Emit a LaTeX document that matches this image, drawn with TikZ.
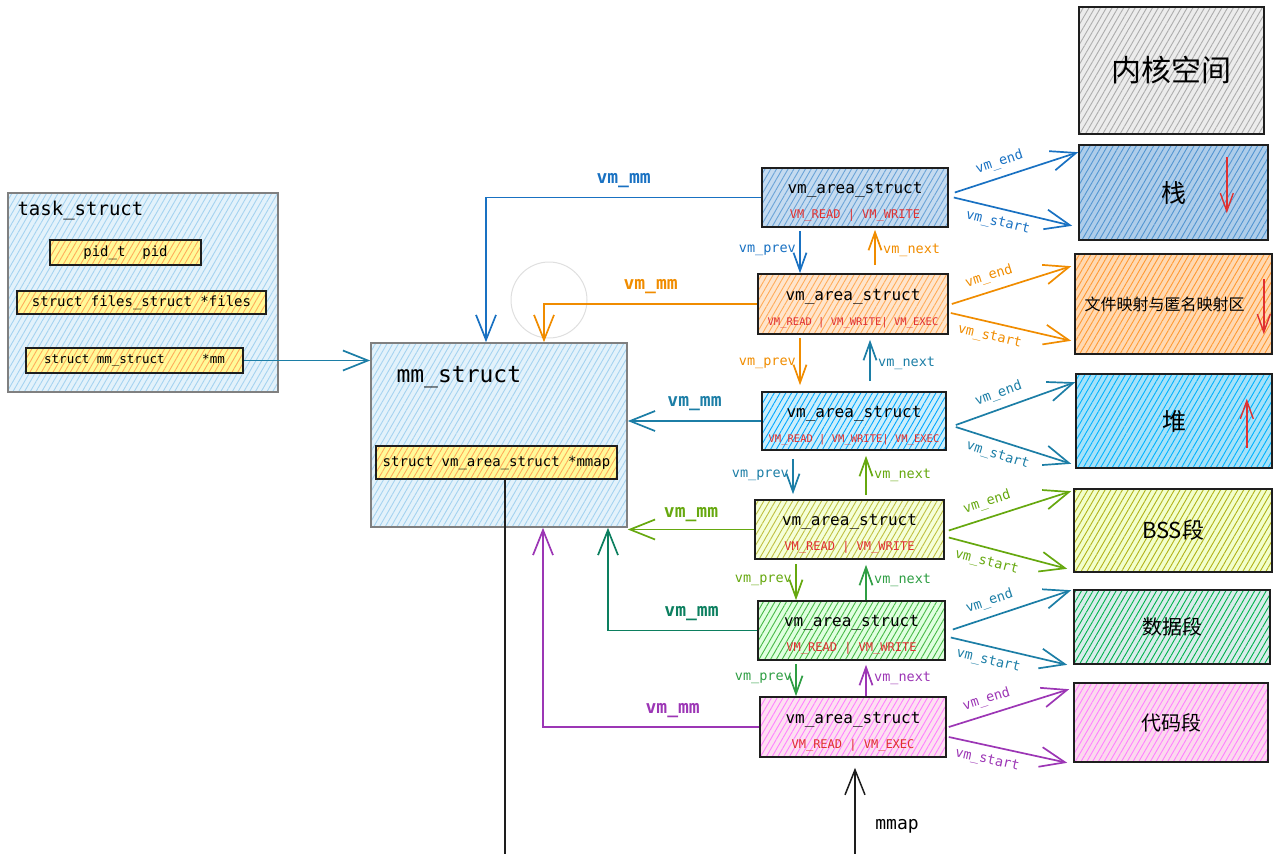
\documentclass[tikz,border=0pt]{standalone}
\usepackage{fontspec}
\setmonofont{DejaVu Sans Mono}
\newfontfamily\cjk{Noto Sans CJK SC}
\usetikzlibrary{patterns}
\usetikzlibrary{patterns.meta}
\usetikzlibrary{arrows.meta}
\usetikzlibrary{calc}

\definecolor{cblue}{HTML}{1971C2}
\definecolor{corange}{HTML}{F08C00}
\definecolor{cteal}{HTML}{1C7EA6}
\definecolor{colive}{HTML}{66A80F}
\definecolor{cgreen}{HTML}{2F9E44}
\definecolor{cdkgreen}{HTML}{0C7F5F}
\definecolor{cpurple}{HTML}{9C36B5}
\definecolor{cflag}{HTML}{E03131}
\definecolor{cink}{HTML}{1E1E1E}
\definecolor{cpale}{HTML}{E3F2FB}
\definecolor{cpaleline}{HTML}{A5D3F0}

\tikzset{
  hatch/.style 2 args={preaction={fill=#1}, pattern={Lines[angle=60,distance=5pt,line width=0.9pt]}, pattern color=#2},
  box/.style={draw=cink, line width=1.6pt, inner sep=0pt},
  field/.style={box, hatch={yellow!40}{orange!65}, font=\ttfamily\fontsize{14}{16}\selectfont},
  vma/.style={box, minimum width=186pt, minimum height=59pt, align=center, font=\ttfamily\fontsize{16}{20}\selectfont},
  seg/.style={box, font=\cjk\fontsize{22}{26}\selectfont},
  link/.style={->, line width=1.7pt},
  chain/.style={link, >={Straight Barb[length=18pt,width=13pt]}},
  small/.style={font=\ttfamily\fontsize{13.5}{15}\selectfont},
  tiny/.style={font=\ttfamily\fontsize{13.5}{15}\selectfont},
  mmlbl/.style={font=\ttfamily\bfseries\fontsize{18}{20}\selectfont},
  growth/.style={->, cflag, line width=1.4pt, >={Straight Barb[length=18pt,width=13pt]}},
}
\newcommand{\flags}[1]{{\color{cflag}\fontsize{12}{14}\selectfont #1}}
\newcommand{\flagsx}[1]{{\color{cflag}\fontsize{10.5}{14}\selectfont #1}}
\newcommand{\vmatitle}{\rule{0pt}{20pt}vm\_area\_struct\\[5pt]}

\begin{document}
\begin{tikzpicture}[x=1pt, y=-1pt, >={Straight Barb[length=25pt,width=20pt]}]
  \useasboundingbox (0,0) rectangle (1277,854);

  % task_struct
  \node[box, draw=gray, hatch={cpale}{cpaleline}, minimum width=270pt, minimum height=199pt] (task) at (143,292.5) {};
  \node[anchor=west, font=\ttfamily\fontsize{19}{21}\selectfont] (tasklbl) at (14,211) {task\_struct};
  \node[field, minimum width=151pt, minimum height=25pt] (pid) at (125.5,252.5) {pid\_t\ \ pid};
  \node[field, minimum width=249pt, minimum height=23pt] (files) at (141.5,302.5) {struct files\_struct *files};
  \node[field, minimum width=217pt, minimum height=25pt, font=\ttfamily\fontsize{12.5}{14}\selectfont] (mmptr) at (134.5,360.5) {struct mm\_struct\ \ \ \ \ *mm};

  % mm_struct
  \node[box, draw=gray, hatch={cpale}{cpaleline}, minimum width=256pt, minimum height=184pt] (mm) at (499,435) {};
  \node[anchor=west, font=\ttfamily\fontsize{23}{25}\selectfont] (mmlbl) at (393,377) {mm\_struct};
  \node[field, minimum width=241pt, minimum height=33pt] (mmap) at (496.5,462.5) {struct vm\_area\_struct *mmap};

  \draw[link, cteal] (mmptr.east) -- (mmptr.east -| mm.west);

  % vm_area_struct list
  \node[vma, hatch={cblue!25}{cblue!65}] (vma1) at (855,197.5) {\vmatitle\flags{VM\_READ | VM\_WRITE}};
  \node[vma, hatch={orange!20}{orange!65}, minimum width=190pt, minimum height=60pt] (vma2) at (853,304) {\vmatitle\flagsx{VM\_READ | VM\_WRITE| VM\_EXEC}};
  \node[vma, hatch={cyan!20}{cyan!65!blue}, minimum width=184pt, minimum height=58pt] (vma3) at (854,421) {\vmatitle\flagsx{VM\_READ | VM\_WRITE| VM\_EXEC}};
  \node[vma, hatch={lime!15}{olive!50}, minimum width=189pt] (vma4) at (849.5,529.5) {\vmatitle\flags{VM\_READ | VM\_WRITE}};
  \node[vma, hatch={green!12}{green!45!gray}, minimum width=187pt] (vma5) at (851.5,630.5) {\vmatitle\flags{VM\_READ | VM\_WRITE}};
  \node[vma, hatch={magenta!12}{magenta!50}, minimum height=60pt] (vma6) at (853,727) {\vmatitle\flags{VM\_READ | VM\_EXEC}};

  % address space
  \node[seg, hatch={gray!15}{gray!65}, minimum width=185pt, minimum height=127pt, font=\cjk\fontsize{30}{34}\selectfont] (kern) at (1171.5,70.5) {内核空间};
  \node[seg, hatch={cblue!35}{cblue!75}, minimum width=189pt, minimum height=95pt, font=\cjk\fontsize{25}{28}\selectfont] (stack) at (1173.5,192.5) {栈};
  \node[seg, hatch={orange!30}{orange!80}, minimum width=197pt, minimum height=100pt, font=\cjk\fontsize{16}{18}\selectfont] (fmap) at (1173.5,304) {\hspace*{-18pt}文件映射与匿名映射区};
  \node[seg, hatch={cyan!35}{cyan!70!blue}, minimum width=196pt, minimum height=94pt, font=\cjk\fontsize{24}{27}\selectfont] (heap) at (1174,421) {堆};
  \node[seg, hatch={lime!20}{olive!60}, minimum width=198pt, minimum height=83pt] (bss) at (1173,530.5) {BSS段};
  \node[seg, hatch={teal!15}{teal!60!green}, minimum width=196pt, minimum height=74pt, font=\cjk\fontsize{20}{24}\selectfont] (data) at (1172,627) {数据段};
  \node[seg, hatch={magenta!15}{magenta!50}, minimum width=194pt, minimum height=79pt, font=\cjk\fontsize{20}{24}\selectfont] (text) at (1171,722.5) {代码段};

  \draw[growth] ([xshift=-42pt,yshift=-13pt]stack.north east) -- ++(0,56);
  \draw[growth] ([xshift=-9pt,yshift=-26pt]fmap.north east) -- ++(0,55);
  \draw[growth] ([xshift=-26pt,yshift=21pt]heap.south east) -- ++(0,-49);

  % vm_mm
  \draw[gray!25, line width=1pt] (549,300) circle (38pt);
  \draw[link, cblue] (vma1.west) -| ([xshift=-13pt]mm.north) node[pos=0.25, above=6pt, mmlbl] {vm\_mm};
  \draw[link, corange] (vma2.west) -| ([xshift=45pt]mm.north) node[pos=0.25, above=6pt, mmlbl] {vm\_mm};
  \draw[link, cteal] (vma3.west) -- (vma3.west -| mm.east) node[midway, above=6pt, mmlbl] {vm\_mm};
  \draw[link, colive] (vma4.west) -- (vma4.west -| mm.east) node[midway, above=4pt, mmlbl] {vm\_mm};
  \draw[link, cdkgreen] (vma5.west) -| ([xshift=109pt]mm.south) node[pos=0.22, above=6pt, mmlbl] {vm\_mm};
  \draw[link, cpurple] (vma6.west) -| ([xshift=44pt]mm.south) node[pos=0.2, above=5pt, mmlbl] {vm\_mm};

  % vm_prev / vm_next
  \draw[chain, cblue, shorten <=3pt] (vma1.south -| 800,0) -- (vma2.north -| 800,0) node[midway, left, small] {vm\_prev};
  \draw[chain, corange, shorten <=8pt, shorten >=2pt] (vma2.north -| 875,0) -- (vma1.south -| 875,0) node[midway, right=4pt, small] {vm\_next};
  \draw[chain, corange, shorten <=3pt, shorten >=6pt] (vma2.south -| 800,0) -- (vma3.north -| 800,0) node[midway, left, small] {vm\_prev};
  \draw[chain, cteal, shorten <=10pt, shorten >=5pt] (vma3.north -| 870,0) -- (vma2.south -| 870,0) node[midway, right=4pt, small] {vm\_next};
  \draw[chain, cteal, shorten <=8pt, shorten >=5pt] (vma3.south -| 793,0) -- (vma4.north -| 793,0) node[midway, left, small] {vm\_prev};
  \draw[chain, colive, shorten <=4pt, shorten >=5pt] (vma4.north -| 866,0) -- (vma3.south -| 866,0) node[midway, right=4pt, small] {vm\_next};
  \draw[chain, colive, shorten <=4pt] (vma4.south -| 796,0) -- (vma5.north -| 796,0) node[midway, left, small] {vm\_prev};
  \draw[chain, cgreen, shorten >=5pt] (vma5.north -| 866,0) -- (vma4.south -| 866,0) node[midway, right=4pt, small] {vm\_next};
  \draw[chain, cgreen, shorten <=3pt] (vma5.south -| 796,0) -- (vma6.north -| 796,0) node[midway, left, small] {vm\_prev};
  \draw[chain, cpurple, shorten >=4pt] (vma6.north -| 866,0) -- (vma5.south -| 866,0) node[midway, right=4pt, small] {vm\_next};

  % vm_end / vm_start
  \draw[link, cblue] ([xshift=6pt,yshift=5pt]vma1.east) -- ([yshift=-8pt]stack.north west) node[pos=0.4, above=4pt, sloped, tiny] {vm\_end};
  \draw[link, cblue] ([xshift=5pt]vma1.east) -- ([xshift=-6pt,yshift=15pt]stack.south west) node[pos=0.4, below=4pt, sloped, tiny] {vm\_start};
  \draw[link, corange] ([xshift=3pt]vma2.east) -- ([xshift=-3pt,yshift=-13pt]fmap.north west) node[pos=0.35, above=4pt, sloped, tiny] {vm\_end};
  \draw[link, corange] ([xshift=2pt,yshift=-9pt]vma2.east) -- ([xshift=-3pt,yshift=14pt]fmap.south west) node[pos=0.35, below=4pt, sloped, tiny] {vm\_start};
  \draw[link, cteal] ([xshift=9pt,yshift=-4pt]vma3.east) -- ([yshift=-9pt]heap.north west) node[pos=0.4, above=4pt, sloped, tiny] {vm\_end};
  \draw[link, cteal] ([xshift=9pt,yshift=-6pt]vma3.east) -- ([xshift=-4pt,yshift=5pt]heap.south west) node[pos=0.4, below=4pt, sloped, tiny] {vm\_start};
  \draw[link, colive] ([xshift=4pt,yshift=-1pt]vma4.east) -- ([xshift=-2pt,yshift=-3pt]bss.north west) node[pos=0.35, above=4pt, sloped, tiny] {vm\_end};
  \draw[link, colive] ([xshift=4pt,yshift=-8pt]vma4.east) -- ([xshift=-6pt,yshift=4pt]bss.south west) node[pos=0.35, below=4pt, sloped, tiny] {vm\_start};
  \draw[link, cteal] ([xshift=7pt,yshift=1pt]vma5.east) -- ([xshift=-2pt,yshift=-1pt]data.north west) node[pos=0.35, above=4pt, sloped, tiny] {vm\_end};
  \draw[link, cteal] ([xshift=5pt,yshift=-7pt]vma5.east) -- ([xshift=-6pt]data.south west) node[pos=0.35, below=4pt, sloped, tiny] {vm\_start};
  \draw[link, cpurple] ([xshift=2pt]vma6.east) -- ([xshift=-4pt,yshift=-7pt]text.north west) node[pos=0.35, above=4pt, sloped, tiny] {vm\_end};
  \draw[link, cpurple] ([xshift=2pt,yshift=-10pt]vma6.east) -- ([xshift=-6pt]text.south west) node[pos=0.35, below=4pt, sloped, tiny] {vm\_start};

  % mmap
  \coordinate (under) at (680,880);
  \draw[link, cink, line width=1.5pt, shorten >=10pt] (mmap.south -| 505,0) |- (under) -| (vma6.south -| 855,0);
  \node[font=\ttfamily\fontsize{18}{20}\selectfont] (mmaptxt) at (897,826) {mmap};
\end{tikzpicture}
\end{document}
